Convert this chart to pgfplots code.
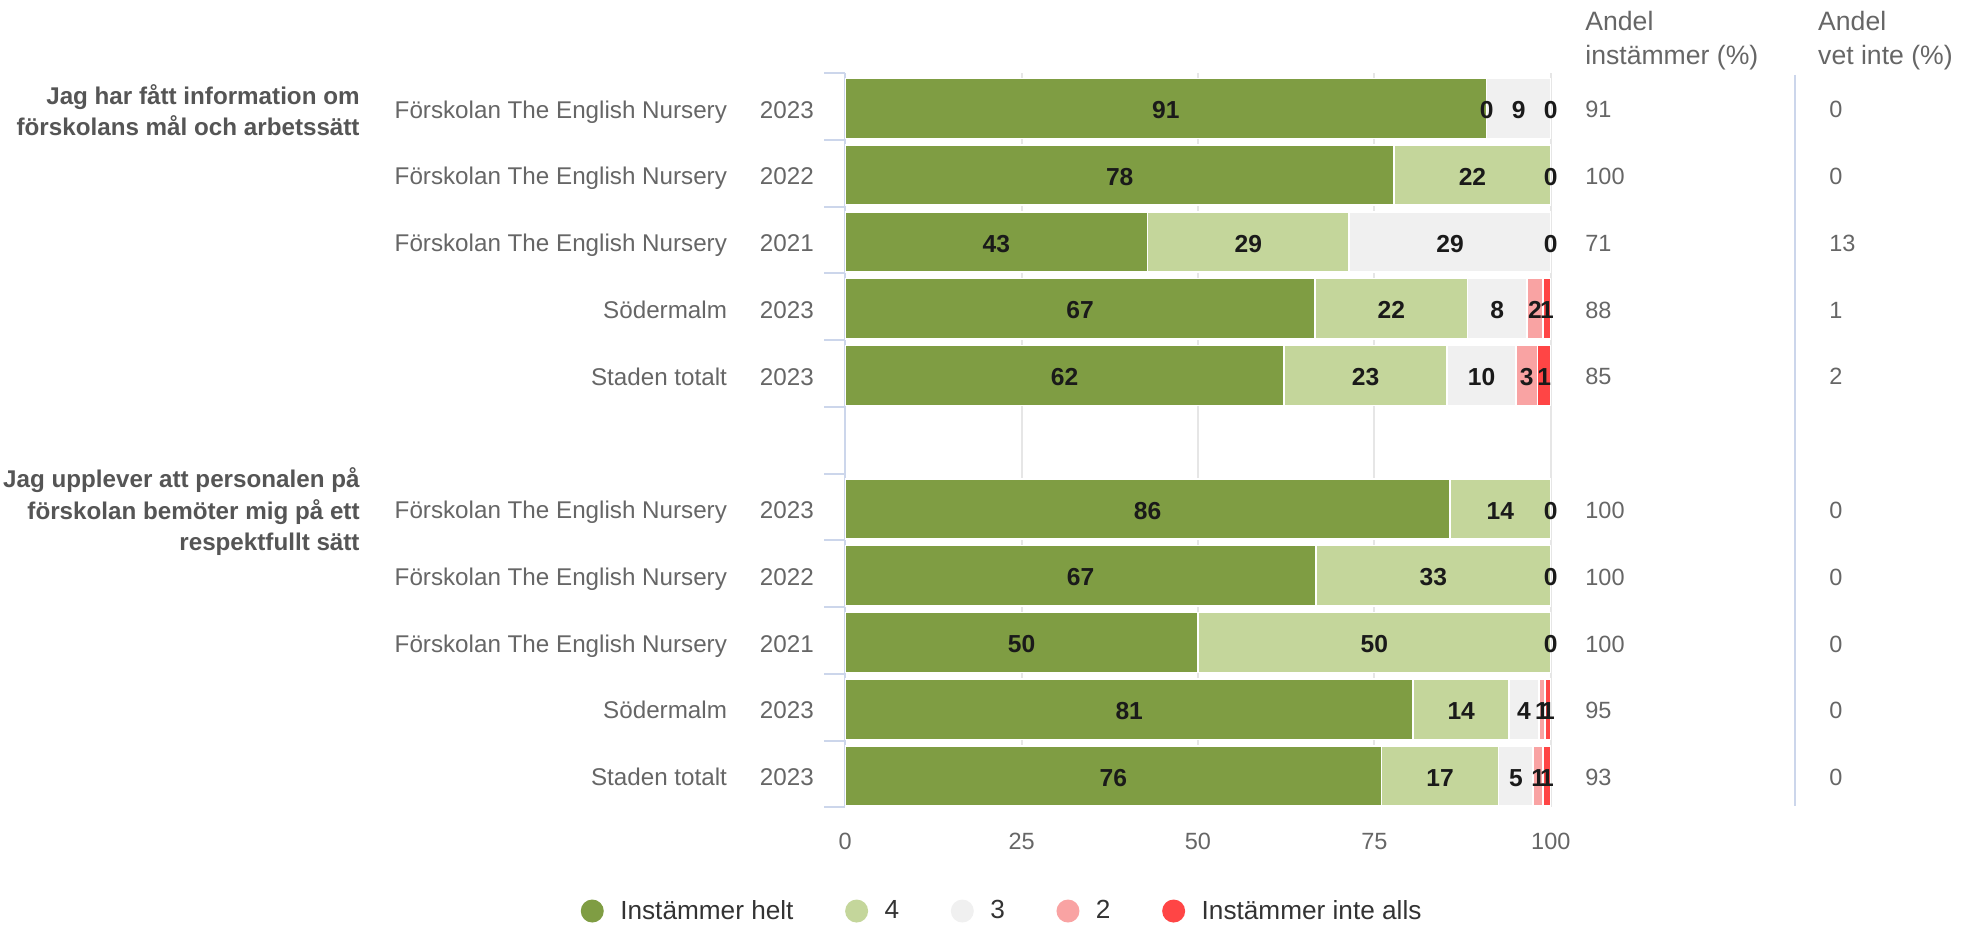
\documentclass[border=0pt]{standalone}
\usepackage{fontspec}
\setmainfont{Liberation Sans}
\usepackage{pgfplots}
\usepackage{pgfplotstable}
\pgfplotsset{compat=1.18}

\definecolor{helt}{RGB}{127,157,67}
\definecolor{fyra}{RGB}{196,214,155}
\definecolor{tre}{RGB}{240,240,240}
\definecolor{tva}{RGB}{249,163,163}
\definecolor{inte}{RGB}{255,69,69}
\definecolor{axisblue}{RGB}{204,214,235}
\definecolor{gridgray}{RGB}{230,230,230}
\definecolor{labgray}{RGB}{102,102,102}
\definecolor{grpgray}{RGB}{85,85,85}
\definecolor{legtext}{RGB}{51,51,51}
\definecolor{barlabc}{RGB}{26,26,26}

\newcommand\lab{\fontsize{11.75}{14}\selectfont}
\newcommand\cat{\fontsize{12.1}{14}\selectfont}
\newcommand\barlab{\fontsize{12.3}{14}\selectfont\bfseries}
\newcommand\hdr{\fontsize{13.3}{17}\selectfont}
\newcommand\leg{\fontsize{13.1}{16}\selectfont}
\newcommand\grp{\fontsize{12.1}{15.75}\selectfont\bfseries}

% one row per bar, y = row from the top (5 is the gap between the questions)
% h = instämmer helt, f = 4, t = 3, tw = 2, ie = instämmer inte alls; *l = printed label
\pgfplotstableread{
y  h     hl f     fl t     tl tw  twl ie  iel andel vet
0  90.9  91 0     0  9.1   9  0   {}  0   0   91    0
1  77.8  78 22.2  22 0     0  0   {}  0   {}  100   0
2  42.86 43 28.57 29 28.57 29 0   {}  0   0   71    13
3  66.6  67 21.6  22 8.4   8  2.3 2   1.1 1   88    1
4  62.2  62 23.1  23 9.8   10 3.0 3   1.9 1   85    2
6  85.7  86 14.3  14 0     0  0   {}  0   {}  100   0
7  66.7  67 33.3  33 0     0  0   {}  0   {}  100   0
8  50    50 50    50 0     0  0   {}  0   {}  100   0
9  80.5  81 13.6  14 4.2   4  0.9 1   0.8 1   95    0
10 76.0  76 16.6  17 4.9   5  1.4 1   1.1 1   93    0
}\svar

\pgfplotsset{
  base/.style={
    width=352.8pt, height=367.2pt, scale only axis,
    xmin=0, xmax=100, ymin=-0.5, ymax=10.5, y dir=reverse,
  },
  lbl/.style={draw=none, nodes near coords, point meta=explicit symbolic,
    every node near coord/.append style={font=\barlab, text=barlabc, anchor=base, yshift=-6.1pt}},
  col/.style={draw=none, nodes near coords, point meta=explicit symbolic,
    every node near coord/.append style={font=\lab, text=labgray, anchor=base west,
      inner sep=0pt, xshift=#1, yshift=-5.75pt}},
}

\begin{document}
\begin{tikzpicture}
\path[use as bounding box] (-422.6pt,-59.3pt) rectangle (564.9pt,403.7pt);

\begin{axis}[base,
  xbar stacked, bar width=0.9, bar shift=0.03,
  axis y line*=left, axis x line*=bottom,
  x axis line style={draw=none},
  y axis line style={draw=axisblue, line width=1pt, -},
  xtick={0,25,50,75,100},
  xmajorgrids, major grid style={draw=gridgray, line width=1pt},
  ytick={0,1,2,3,4,6,7,8,9,10},
  yticklabels={
    Förskolan The English Nursery\hspace{16.5pt}2023,
    Förskolan The English Nursery\hspace{16.5pt}2022,
    Förskolan The English Nursery\hspace{16.5pt}2021,
    Södermalm\hspace{16.5pt}2023,
    Staden totalt\hspace{16.5pt}2023,
    Förskolan The English Nursery\hspace{16.5pt}2023,
    Förskolan The English Nursery\hspace{16.5pt}2022,
    Förskolan The English Nursery\hspace{16.5pt}2021,
    Södermalm\hspace{16.5pt}2023,
    Staden totalt\hspace{16.5pt}2023},
  minor ytick={-0.5,0.5,...,10.5},
  tick align=outside, major tick length=0pt, minor tick length=10.5pt,
  minor tick style={draw=axisblue, line width=1pt},
  /pgf/number format/assume math mode=true,
  yticklabel style={font=\cat, text=labgray, anchor=base east, inner sep=0pt,
    xshift=-15.5pt, yshift=-5.85pt},
  xticklabel style={font=\lab, text=labgray, anchor=center, inner sep=0pt, yshift=-17.2pt},
  legend columns=-1,
  legend style={draw=none, fill=none, at={(-0.3753,-0.1411)}, anchor=west,
    inner sep=0pt, font=\leg, text=legtext, nodes={inner sep=0pt},
    /tikz/every odd column/.append style={column sep=8.25pt},
    /tikz/every even column/.append style={column sep=25.8pt}},
  legend image code/.code={\fill[#1, draw=none] (0pt,0pt) circle (5.75pt);},
]
\addplot[fill=helt, draw=white, line width=0.8pt] table[x=h, y=y] {\svar};
\addlegendentry{Instämmer helt}
\addplot[fill=fyra, draw=white, line width=0.8pt] table[x=f, y=y] {\svar};
\addlegendentry{4}
\addplot[fill=tre, draw=white, line width=0.8pt] table[x=t, y=y] {\svar};
\addlegendentry{3}
\addplot[fill=tva, draw=white, line width=0.8pt] table[x=tw, y=y] {\svar};
\addlegendentry{2}
\addplot[fill=inte, draw=white, line width=0.8pt] table[x=ie, y=y] {\svar};
\addlegendentry{Instämmer inte alls}
\end{axis}

% labels in the middle of each segment, and the two columns at the right
\begin{axis}[base, hide axis, clip=false]
\addplot[lbl] table[x expr=\thisrow{h}/2, y=y, meta=hl] {\svar};
\addplot[lbl] table[x expr=\thisrow{h}+\thisrow{f}/2, y=y, meta=fl] {\svar};
\addplot[lbl] table[x expr=\thisrow{h}+\thisrow{f}+\thisrow{t}/2, y=y, meta=tl] {\svar};
\addplot[lbl] table[x expr=\thisrow{h}+\thisrow{f}+\thisrow{t}+\thisrow{tw}/2, y=y, meta=twl] {\svar};
\addplot[lbl] table[x expr=\thisrow{h}+\thisrow{f}+\thisrow{t}+\thisrow{tw}+\thisrow{ie}/2, y=y, meta=iel] {\svar};
\addplot[col=17.1pt] table[x expr=100, y=y, meta=andel] {\svar};
\addplot[col=139.1pt] table[x expr=100, y=y, meta=vet] {\svar};
\end{axis}

\node[anchor=west, align=left, font=\hdr, text=labgray, inner sep=0pt] at (369.9pt,383.4pt) {Andel\\instämmer (\%)};
\node[anchor=west, align=left, font=\hdr, text=labgray, inner sep=0pt] at (486.3pt,383.4pt) {Andel\\vet inte (\%)};
\draw[axisblue, line width=1pt] (474.9pt,366.2pt) -- (474.9pt,0.7pt);

\node[anchor=east, align=right, font=\grp, text=grpgray, inner sep=0pt] at (-242.6pt,348.7pt)
  {Jag har fått information om\\förskolans mål och arbetssätt};
\node[anchor=east, align=right, font=\grp, text=grpgray, inner sep=0pt] at (-242.6pt,147.9pt)
  {Jag upplever att personalen på\\förskolan bemöter mig på ett\\respektfullt sätt};
\end{tikzpicture}
\end{document}
